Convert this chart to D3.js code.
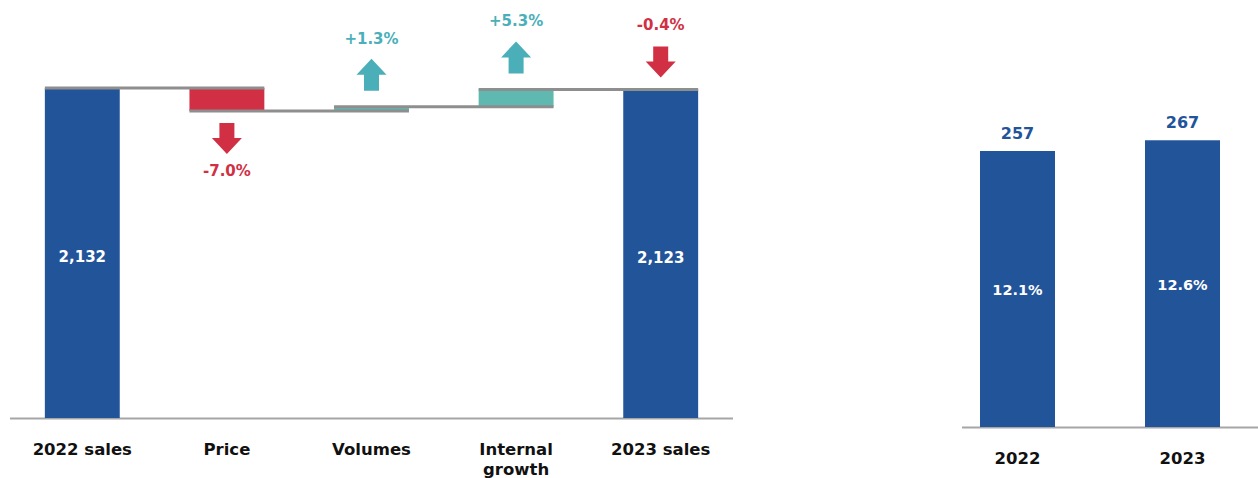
<!DOCTYPE html>
<html><head><meta charset="utf-8">
<script src="https://cdn.jsdelivr.net/npm/d3@7"></script>
<style>body{margin:0;background:#fff}svg{display:block;font-family:"DejaVu Sans",sans-serif;font-weight:700}</style>
</head><body><svg id="c" width="1258" height="478"></svg>
<script>
const wfCategories = ["2022 sales","Price","Volumes","Internal growth","2023 sales"];
const wfValues = [2132, -149, 28, 112, 2123]; // first & last totals, middle deltas
const wfTypes = ["total","delta","delta","delta","total"];
const wfPctLabels = ["", "-7.0%", "+1.3%", "+5.3%", "-0.4%"];
const wfTotalLabels = ["2,132","","","","2,123"];
const ebitCategories = ["2022","2023"];
const ebitValues = [257, 267];
const ebitMargins = ["12.1%","12.6%"];

const BLUE="#22549a", RED="#d13044", TEAL="#4aafb8", TEALBAR="#5fb9b0", GREY="#8e8e8e";
const svg = d3.select("#c");

// ---- Waterfall
const x = d3.scaleBand().domain(wfCategories).range([10,733]).paddingInner(0.482).paddingOuter(0.241);
const y = d3.scaleLinear().domain([0,2132]).range([418,88]);
const bw = x.bandwidth();
let run = 0;
const segs = wfCategories.map((c,i)=>{
  let y0,y1;
  if(wfTypes[i]==="total"){ y0=0; y1=wfValues[i]; run=wfValues[i]; }
  else { y0=run; y1=run+wfValues[i]; run=y1; }
  return {c,i,y0,y1,v:wfValues[i],type:wfTypes[i]};
});

svg.append("line").attr("x1",10).attr("x2",733).attr("y1",y(0)+0.5).attr("y2",y(0)+0.5)
  .attr("stroke","#a6a6a6").attr("stroke-width",2);

svg.selectAll("rect.wf").data(segs).enter().append("rect")
  .attr("x",d=>x(d.c)).attr("width",bw)
  .attr("y",d=>y(Math.max(d.y0,d.y1))).attr("height",d=>Math.abs(y(d.y0)-y(d.y1)))
  .attr("fill",d=>d.type==="total"?BLUE:(d.v<0?RED:TEALBAR));

// connectors
for(let i=0;i<segs.length-1;i++){
  const a=segs[i], b=segs[i+1];
  svg.append("line").attr("x1",x(a.c)).attr("x2",x(b.c)+bw)
    .attr("y1",y(a.y1)).attr("y2",y(a.y1)).attr("stroke",GREY).attr("stroke-width",3);
}

// total labels
svg.selectAll("text.tot").data(segs.filter(d=>d.type==="total")).enter().append("text")
  .attr("x",d=>x(d.c)+bw/2).attr("y",d=>(y(0)+y(d.y1))/2+9)
  .attr("text-anchor","middle").attr("fill","#fff").attr("font-size",15)
  .text(d=>wfTotalLabels[d.i]);

// arrows + pct labels
function arrowPath(cx, top, h, up){
  const hw=15, sw=7.5, hh=16;
  if(up){
    return `M${cx},${top} L${cx+hw},${top+hh} L${cx+sw},${top+hh} L${cx+sw},${top+h} L${cx-sw},${top+h} L${cx-sw},${top+hh} L${cx-hw},${top+hh} Z`;
  } else {
    const b=top+h;
    return `M${cx},${b} L${cx+hw},${b-hh} L${cx+sw},${b-hh} L${cx+sw},${top} L${cx-sw},${top} L${cx-sw},${b-hh} L${cx-hw},${b-hh} Z`;
  }
}
segs.forEach((d,i)=>{
  if(!wfPctLabels[i]) return;
  const cx = x(d.c)+bw/2;
  const neg = wfPctLabels[i].startsWith("-");
  const col = neg?RED:TEAL;
  let aTop, ly;
  if(d.type==="delta" && neg){
    aTop = y(d.y1)+12; ly = aTop+31+22;
  } else if(d.type==="delta"){
    aTop = y(Math.max(d.y0,d.y1))-16-32; ly = aTop-15;
  } else {
    aTop = y(d.y1)-12-31; ly = aTop-16;
  }
  svg.append("path").attr("d",arrowPath(cx,aTop,neg?31:32,!neg)).attr("fill",col);
  svg.append("text").attr("x",cx).attr("y",ly).attr("text-anchor","middle")
    .attr("fill",col).attr("font-size",15).text(wfPctLabels[i]);
});

// category labels
const catG = svg.selectAll("g.cat").data(wfCategories).enter().append("text")
  .attr("x",d=>x(d)+bw/2).attr("y",455).attr("text-anchor","middle")
  .attr("fill","#111").attr("font-size",16.5);
catG.each(function(d){
  const t=d3.select(this);
  if(d==="Internal growth"){
    t.append("tspan").attr("x",x(d)+bw/2).attr("dy",0).text("Internal");
    t.append("tspan").attr("x",x(d)+bw/2).attr("dy",20).text("growth");
  } else t.text(d);
});

// ---- Right chart
const x2 = d3.scaleBand().domain(ebitCategories).range([935,1265]).paddingInner(0.5454).paddingOuter(0.2727);
const y2 = d3.scaleLinear().domain([0,257]).range([427,151]);
const bw2 = x2.bandwidth();
svg.append("line").attr("x1",962).attr("x2",1258).attr("y1",427.5).attr("y2",427.5)
  .attr("stroke","#a6a6a6").attr("stroke-width",2);
svg.selectAll("rect.eb").data(ebitValues).enter().append("rect")
  .attr("x",(d,i)=>x2(ebitCategories[i])).attr("width",bw2)
  .attr("y",d=>y2(d)).attr("height",d=>y2(0)-y2(d)).attr("fill",BLUE);
svg.selectAll("text.ebv").data(ebitValues).enter().append("text")
  .attr("x",(d,i)=>x2(ebitCategories[i])+bw2/2).attr("y",d=>y2(d)-12)
  .attr("text-anchor","middle").attr("fill",BLUE).attr("font-size",16).text(d=>d);
svg.selectAll("text.ebm").data(ebitValues).enter().append("text")
  .attr("x",(d,i)=>x2(ebitCategories[i])+bw2/2).attr("y",d=>(y2(d)+y2(0))/2+6)
  .attr("text-anchor","middle").attr("fill","#fff").attr("font-size",14.5).text((d,i)=>ebitMargins[i]);
svg.selectAll("text.ebc").data(ebitCategories).enter().append("text")
  .attr("x",d=>x2(d)+bw2/2).attr("y",464).attr("text-anchor","middle")
  .attr("fill","#111").attr("font-size",16.5).text(d=>d);
</script></body></html>
